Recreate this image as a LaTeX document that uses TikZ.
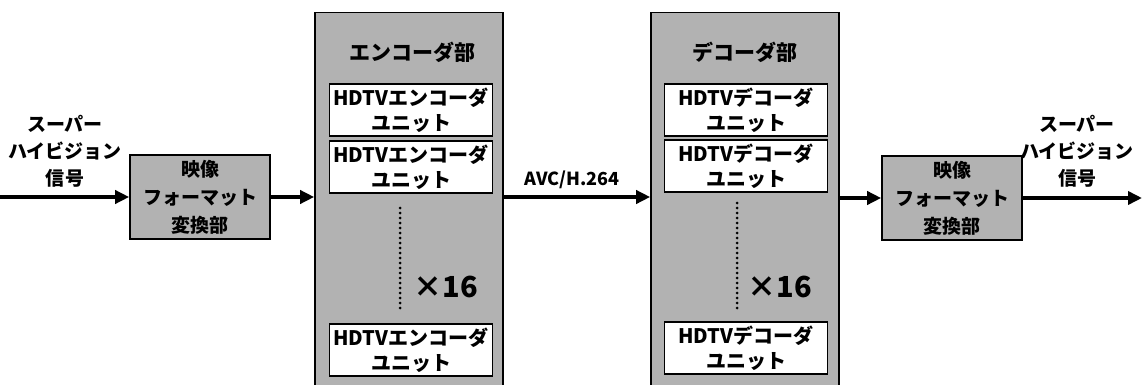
\documentclass[tikz,border=0pt]{standalone}
\usepackage{fontspec}
\setmainfont{Noto Sans CJK JP}
\usetikzlibrary{arrows.meta,positioning}

\begin{document}
\begin{tikzpicture}[
    x=1pt,y=-1pt,
    font=\bfseries\fontsize{19}{27}\selectfont,
    line join=miter,
    fmtbox/.style={draw=black, fill=gray!60, line width=1.6pt, minimum width=140pt, minimum height=84pt, align=center, inner sep=0pt, font=\bfseries\fontsize{19}{28}\selectfont},
    panel/.style={draw=black, fill=gray!60, line width=1.6pt, minimum width=188pt, minimum height=385pt, inner sep=0pt},
    unitbox/.style={draw=black, fill=white, line width=1.6pt, minimum width=163pt, minimum height=52pt, align=center, inner sep=0pt, font=\bfseries\fontsize{20}{25}\selectfont},
    sig/.style={draw=black, line width=4pt, -{Triangle[length=14pt,width=13pt]}},
    dots/.style={draw=black, line width=3pt, line cap=round, dash pattern=on 0pt off 5pt},
    count/.style={font=\bfseries\fontsize{29}{29}\selectfont}
]
\useasboundingbox (0,0) rectangle (1142,385);

% input and format conversion
\coordinate (in) at (0,197);
\node[align=center] (lblin) at (65,151) {スーパー\\ハイビジョン\\信号};
\node[fmtbox] (conv1) at (200,197) {映像\\フォーマット\\変換部};

% encoder
\node[panel] (enc) at (409,205) {};
\node[font=\bfseries\fontsize{21}{21}\selectfont] (enctitle) at (412,52) {エンコーダ部};
\node[unitbox] (enc1) at (411,110) {HDTVエンコーダ\\ユニット};
\node[unitbox] (enc2) at (411,167) {HDTVエンコーダ\\ユニット};
\node[unitbox] (enc3) at (411,350) {HDTVエンコーダ\\ユニット};
\coordinate (encdota) at (400,208);
\coordinate (encdotb) at (400,312);
\draw[dots] (encdota) -- (encdotb);
\node[count] (encn) at (446,287) {×16};

% decoder
\node[panel] (dec) at (745,205) {};
\node[font=\bfseries\fontsize{21}{21}\selectfont] (dectitle) at (745,52) {デコーダ部};
\node[unitbox] (dec1) at (746,110) {HDTVデコーダ\\ユニット};
\node[unitbox] (dec2) at (746,166) {HDTVデコーダ\\ユニット};
\node[unitbox] (dec3) at (746,348) {HDTVデコーダ\\ユニット};
\coordinate (decdota) at (737,203);
\coordinate (decdotb) at (737,310);
\draw[dots] (decdota) -- (decdotb);
\node[count] (decn) at (780,287) {×16};

% output
\node[fmtbox] (conv2) at (952,198) {映像\\フォーマット\\変換部};
\node[align=center] (lblout) at (1077,151) {スーパー\\ハイビジョン\\信号};
\coordinate (out) at (1142,198);

\node[font=\bfseries\fontsize{18}{18}\selectfont] (codec) at (572,180) {AVC/H.264};

\draw[sig] (in) -- (conv1.west |- in);
\draw[sig] (conv1.east |- in) -- (enc.west |- in);
\draw[sig] (enc.east |- in) -- (dec.west |- in);
\draw[sig] (dec.east |- out) -- (conv2.west |- out);
\draw[sig] (conv2.east |- out) -- (out);

\end{tikzpicture}
\end{document}
